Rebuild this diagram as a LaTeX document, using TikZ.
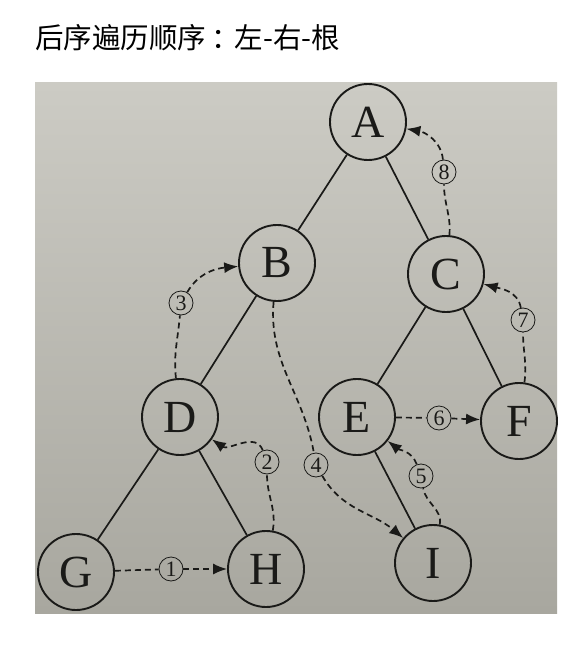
\documentclass[tikz,border=0pt]{standalone}
\usepackage{fontspec}
\setmainfont{Liberation Serif}
\newfontfamily\cjk{Noto Sans CJK SC}
\usetikzlibrary{arrows.meta}
\definecolor{ink}{HTML}{1A1A18}
\definecolor{phototop}{HTML}{CCCBC4}
\definecolor{photobot}{HTML}{A8A79F}
\begin{document}
\begin{tikzpicture}[x=1pt,y=1pt,
  tnode/.style={circle,draw=ink,line width=1.9pt,minimum size=76pt,inner sep=0pt,
    font=\fontsize{46}{46}\selectfont,text=ink},
  edge/.style={draw=ink,line width=1.7pt},
  trav/.style={draw=ink,line width=1.7pt,dash pattern=on 6pt off 4pt},
  travarrow/.style={trav,-{Latex[length=14pt,width=11pt]}},
  seq/.style={circle,draw=ink,line width=0.8pt,minimum size=24pt,inner sep=0pt,
    font=\fontsize{22}{22}\selectfont,text=ink}
]
\useasboundingbox (0,0) rectangle (586,-650);
\fill[white] (0,0) rectangle (586,-650);
\shade[top color=phototop,bottom color=photobot] (35,-83) rectangle (557,-613);

\node[anchor=west,inner sep=0pt,font=\cjk\fontsize{28.5}{28.5}\selectfont] (title) at (35,-38) {后序遍历顺序\kern0.2em：\kern-0.2em左-右-根};

\node[tnode] (A) at (368,-122) {A};
\node[tnode] (B) at (277,-263) {B};
\node[tnode] (C) at (446,-274) {C};
\node[tnode] (D) at (180,-417) {D};
\node[tnode] (E) at (357,-417) {E};
\node[tnode] (F) at (519,-421) {F};
\node[tnode] (G) at (76,-572) {G};
\node[tnode] (H) at (266,-569) {H};
\node[tnode] (I) at (433,-563) {I};

\draw[edge] (A) -- (B);
\draw[edge] (A) -- (C);
\draw[edge] (B) -- (D);
\draw[edge] (C) -- (E);
\draw[edge] (C) -- (F);
\draw[edge] (D) -- (G);
\draw[edge] (D) -- (H);
\draw[edge] (E) -- (I);

\node[seq] (s1) at (171,-569) {1};
\node[seq] (s2) at (267,-462) {2};
\node[seq] (s3) at (181,-303) {3};
\node[seq] (s4) at (316,-465) {4};
\node[seq] (s5) at (421,-476) {5};
\node[seq] (s6) at (439,-418) {6};
\node[seq] (s7) at (523,-320) {7};
\node[seq] (s8) at (444,-172) {8};

% 1: G -> H
\draw[trav] (G) -- (s1);
\draw[travarrow] (s1) -- (H);
% 2: H -> D
\draw[trav] (H) to[out=80,in=-90] (s2);
\draw[travarrow] (s2) to[out=110,in=-35] (D);
% 3: D -> B
\draw[trav] (D) to[out=96,in=-95] (s3);
\draw[travarrow] (s3) to[out=60,in=185] (B);
% 4: B -> I
\draw[trav] (B) to[out=-95,in=100] (s4);
\draw[travarrow] (s4) to[out=-60,in=140] (I);
% 5: I -> E
\draw[trav] (I) to[out=80,in=-80] (s5);
\draw[travarrow] (s5) to[out=110,in=-38] (E);
% 6: E -> F
\draw[trav] (E) -- (s6);
\draw[travarrow] (s6) -- (F);
% 7: F -> C
\draw[trav] (F) to[out=82,in=-90] (s7);
\draw[travarrow] (s7) to[out=100,in=-15] (C);
% 8: C -> A
\draw[trav] (C) to[out=85,in=-90] (s8);
\draw[travarrow] (s8) to[out=95,in=-10] (A);
\end{tikzpicture}
\end{document}
